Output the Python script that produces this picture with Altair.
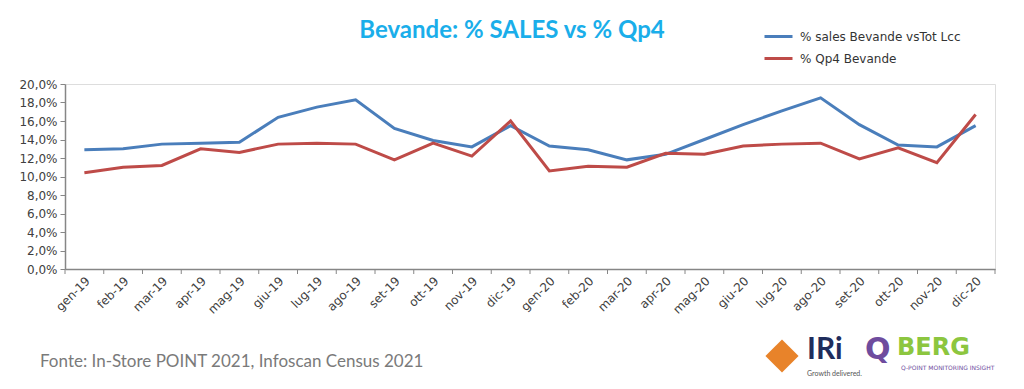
import altair as alt
import pandas as pd

months = ["gen-19", "feb-19", "mar-19", "apr-19", "mag-19", "giu-19", "lug-19", "ago-19",
          "set-19", "ott-19", "nov-19", "dic-19", "gen-20", "feb-20", "mar-20", "apr-20",
          "mag-20", "giu-20", "lug-20", "ago-20", "set-20", "ott-20", "nov-20", "dic-20"]
sales = [12.9, 13.0, 13.5, 13.6, 13.7, 16.4, 17.5, 18.3, 15.2, 13.9, 13.2, 15.5,
         13.3, 12.9, 11.8, 12.4, 14.0, 15.6, 17.1, 18.5, 15.6, 13.4, 13.2, 15.5]
qp4 = [10.4, 11.0, 11.2, 13.0, 12.6, 13.5, 13.6, 13.5, 11.8, 13.6, 12.2, 16.0,
       10.6, 11.1, 11.0, 12.5, 12.4, 13.3, 13.5, 13.6, 11.9, 13.1, 11.5, 16.7]
series_names = ["% sales Bevande vsTot Lcc", "% Qp4 Bevande"]
series_colors = ["#4A7EBB", "#BE4B48"]
y_ticks = [0, 2, 4, 6, 8, 10, 12, 14, 16, 18, 20]

df = pd.DataFrame({"month": months, series_names[0]: sales, series_names[1]: qp4})
long = df.melt(id_vars="month", var_name="serie", value_name="valore")
ticks_df = pd.DataFrame({"month": months})

W, H = 930, 185
AXIS_COL = "#868686"
LABEL_COL = "#404040"

x_scale = alt.Scale(type="band", paddingInner=0, paddingOuter=0)

lines = alt.Chart(long).mark_line(strokeWidth=3).encode(
    x=alt.X("month:N", sort=months, scale=x_scale, title=None,
            axis=alt.Axis(labelAngle=-45, ticks=False, labelPadding=6,
                          labelFont="DejaVu Sans", labelFontSize=12, labelColor=LABEL_COL,
                          domainColor=AXIS_COL, domainWidth=1.5, labelAlign="right",
                          labelBaseline="top")),
    y=alt.Y("valore:Q", scale=alt.Scale(domain=[0, 20], nice=False), title=None,
            axis=alt.Axis(values=y_ticks, grid=False,
                          labelExpr="replace(format(datum.value, '.1f'), '.', ',') + '%'",
                          labelFont="DejaVu Sans", labelFontSize=12, labelColor=LABEL_COL,
                          domainColor=AXIS_COL, domainWidth=1.5, tickColor=AXIS_COL,
                          tickSize=5, labelPadding=3)),
    color=alt.Color("serie:N", sort=series_names,
                    scale=alt.Scale(domain=series_names, range=series_colors),
                    legend=alt.Legend(title=None, orient="none", legendX=698, legendY=-63,
                                      direction="vertical", symbolType="stroke",
                                      symbolSize=784, symbolStrokeWidth=3,
                                      labelFont="DejaVu Sans", labelFontSize=12,
                                      labelColor="#333333", rowPadding=0, padding=0,
                                      labelOffset=6, labelLimit=0)),
)

xticks = alt.Chart(ticks_df).mark_rule(color=AXIS_COL, strokeWidth=1).encode(
    x=alt.X("month:N", sort=months, scale=x_scale, bandPosition=0),
    y=alt.value(H), y2=alt.value(H + 5),
)
xtick_end = alt.Chart(ticks_df.tail(1)).mark_rule(color=AXIS_COL, strokeWidth=1).encode(
    x=alt.X("month:N", sort=months, scale=x_scale, bandPosition=1),
    y=alt.value(H), y2=alt.value(H + 5),
)

title = alt.Chart(ticks_df.head(1)).mark_text(
    font="Lato", fontSize=24, fontWeight="bold", color="#1AAEEA", align="center",
    baseline="middle").encode(x=alt.value(447), y=alt.value(-53),
                              text=alt.value("Bevande: % SALES vs % Qp4"))

footer = alt.Chart(ticks_df.head(1)).mark_text(
    font="Lato", fontSize=17, color="#7A7A7A", align="left", baseline="middle").encode(
    x=alt.value(-25), y=alt.value(278), text=alt.value("Fonte: In-Store POINT 2021, Infoscan Census 2021"))

iri = alt.Chart(ticks_df.head(1)).mark_text(
    font="Lato", fontSize=30, fontWeight="bold", color="#1F2D5C", align="left", baseline="middle").encode(
    x=alt.value(742), y=alt.value(266), text=alt.value("IRi"))
iri_sub = alt.Chart(ticks_df.head(1)).mark_text(
    font="Lato", fontSize=7, color="#555555", align="left", baseline="middle").encode(
    x=alt.value(742), y=alt.value(290), text=alt.value("Growth delivered."))
hexa = alt.Chart(ticks_df.head(1)).mark_point(
    shape="diamond", filled=True, size=1100, color="#E8832A", opacity=1).encode(
    x=alt.value(717), y=alt.value(272))
qberg = alt.Chart(ticks_df.head(1)).mark_text(
    font="DejaVu Sans", fontSize=24, fontWeight="bold", color="#8CC63F", align="left",
    baseline="middle").encode(x=alt.value(832), y=alt.value(264), text=alt.value("BERG"))
qletter = alt.Chart(ticks_df.head(1)).mark_text(
    font="DejaVu Sans", fontSize=30, fontWeight="bold", color="#6E4C9E", align="left",
    baseline="middle").encode(x=alt.value(800), y=alt.value(266), text=alt.value("Q"))
qsub = alt.Chart(ticks_df.head(1)).mark_text(
    font="DejaVu Sans", fontSize=6, color="#6E4C9E", align="left", baseline="middle").encode(
    x=alt.value(836), y=alt.value(284), text=alt.value("Q-POINT MONITORING INSIGHT"))

chart = alt.layer(lines, xticks, xtick_end, title, footer, hexa, iri, iri_sub, qletter, qberg, qsub).properties(
    width=W, height=H,
    autosize=alt.AutoSizeParams(type="none"),
    padding={"left": 57, "top": 76, "right": 21, "bottom": 112},
).configure_view(stroke=None).configure(background="white")

chart.save("out.html", embed_options={"renderer": "svg", "actions": False})
